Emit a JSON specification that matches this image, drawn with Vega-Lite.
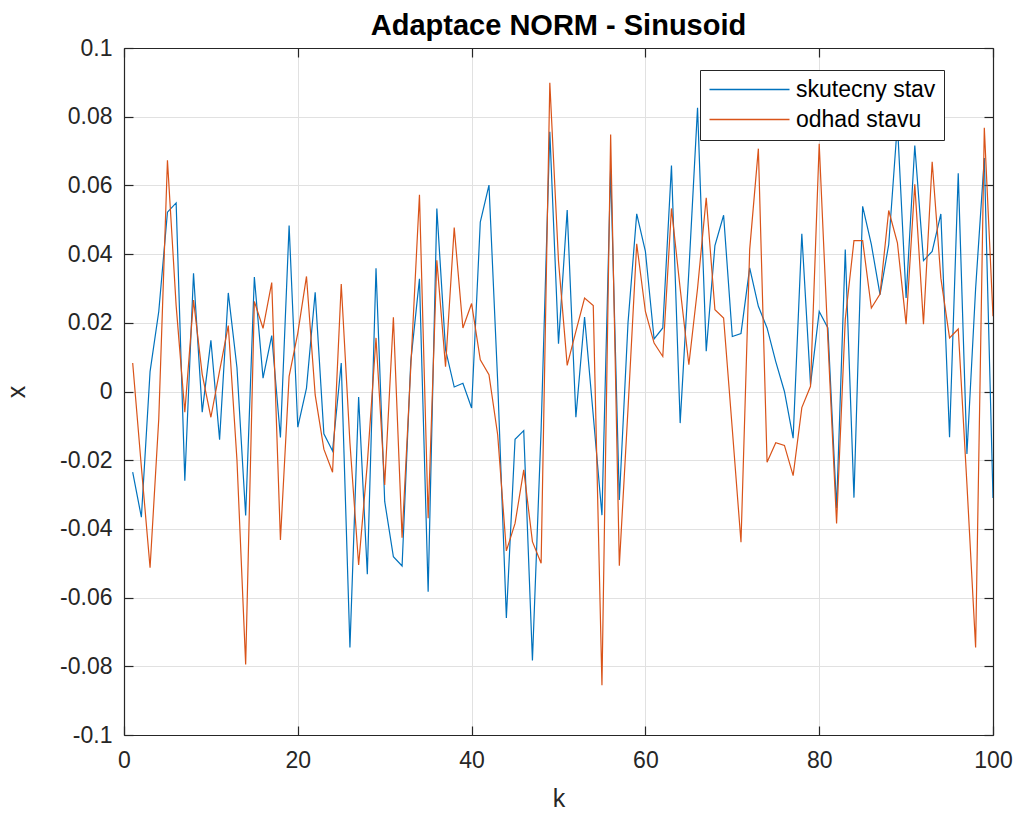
{
  "$schema": "https://vega.github.io/schema/vega-lite/v6.json",
  "width": 869,
  "height": 687,
  "autosize": {"type": "none"},
  "padding": {"left": 124, "top": 48, "right": 23, "bottom": 78},
  "background": "white",
  "title": {
    "text": "Adaptace NORM - Sinusoid",
    "font": "Liberation Sans",
    "fontSize": 29,
    "fontWeight": "bold",
    "color": "#000000",
    "anchor": "middle",
    "offset": -4
  },
  "config": {
    "view": {"stroke": null},
    "axis": {
      "labelFont": "Liberation Sans",
      "titleFont": "Liberation Sans",
      "labelColor": "#262626",
      "titleColor": "#262626",
      "labelFontSize": 23,
      "titleFontSize": 25,
      "titleFontWeight": "normal",
      "domainColor": "#262626",
      "tickColor": "#262626",
      "domainWidth": 1.2,
      "tickWidth": 1.2,
      "gridColor": "#e1e1e1",
      "gridWidth": 1
    }
  },
  "data": {
    "values": [
      {"k":1,"skutecny stav":-0.0235,"odhad stavu":0.0083},
      {"k":2,"skutecny stav":-0.0366,"odhad stavu":-0.022},
      {"k":3,"skutecny stav":0.0058,"odhad stavu":-0.0513},
      {"k":4,"skutecny stav":0.0233,"odhad stavu":-0.008},
      {"k":5,"skutecny stav":0.0522,"odhad stavu":0.0673},
      {"k":6,"skutecny stav":0.0549,"odhad stavu":0.025},
      {"k":7,"skutecny stav":-0.026,"odhad stavu":-0.006},
      {"k":8,"skutecny stav":0.0344,"odhad stavu":0.0266},
      {"k":9,"skutecny stav":-0.006,"odhad stavu":0.005},
      {"k":10,"skutecny stav":0.0149,"odhad stavu":-0.0075},
      {"k":11,"skutecny stav":-0.014,"odhad stavu":0.006},
      {"k":12,"skutecny stav":0.0287,"odhad stavu":0.0192},
      {"k":13,"skutecny stav":0.0069,"odhad stavu":-0.02},
      {"k":14,"skutecny stav":-0.0361,"odhad stavu":-0.0795},
      {"k":15,"skutecny stav":0.0333,"odhad stavu":0.0262},
      {"k":16,"skutecny stav":0.0039,"odhad stavu":0.0184},
      {"k":17,"skutecny stav":0.0163,"odhad stavu":0.0317},
      {"k":18,"skutecny stav":-0.0134,"odhad stavu":-0.0432},
      {"k":19,"skutecny stav":0.0483,"odhad stavu":0.0044},
      {"k":20,"skutecny stav":-0.0104,"odhad stavu":0.017},
      {"k":21,"skutecny stav":0.001,"odhad stavu":0.0335},
      {"k":22,"skutecny stav":0.0289,"odhad stavu":-0.001},
      {"k":23,"skutecny stav":-0.0123,"odhad stavu":-0.0168},
      {"k":24,"skutecny stav":-0.0173,"odhad stavu":-0.0235},
      {"k":25,"skutecny stav":0.0083,"odhad stavu":0.0313},
      {"k":26,"skutecny stav":-0.0745,"odhad stavu":-0.015},
      {"k":27,"skutecny stav":-0.0016,"odhad stavu":-0.0505},
      {"k":28,"skutecny stav":-0.0532,"odhad stavu":-0.021},
      {"k":29,"skutecny stav":0.0359,"odhad stavu":0.0156},
      {"k":30,"skutecny stav":-0.032,"odhad stavu":-0.0272},
      {"k":31,"skutecny stav":-0.0481,"odhad stavu":0.0216},
      {"k":32,"skutecny stav":-0.0508,"odhad stavu":-0.0426},
      {"k":33,"skutecny stav":0.0087,"odhad stavu":0.007},
      {"k":34,"skutecny stav":0.0328,"odhad stavu":0.0573},
      {"k":35,"skutecny stav":-0.0583,"odhad stavu":-0.0369},
      {"k":36,"skutecny stav":0.0533,"odhad stavu":0.0382},
      {"k":37,"skutecny stav":0.0122,"odhad stavu":0.0072},
      {"k":38,"skutecny stav":0.0013,"odhad stavu":0.0477},
      {"k":39,"skutecny stav":0.0024,"odhad stavu":0.0185},
      {"k":40,"skutecny stav":-0.0048,"odhad stavu":0.0256},
      {"k":41,"skutecny stav":0.0493,"odhad stavu":0.0092},
      {"k":42,"skutecny stav":0.0601,"odhad stavu":0.0049},
      {"k":43,"skutecny stav":0.003,"odhad stavu":-0.0126},
      {"k":44,"skutecny stav":-0.0659,"odhad stavu":-0.0464},
      {"k":45,"skutecny stav":-0.0139,"odhad stavu":-0.0384},
      {"k":46,"skutecny stav":-0.0114,"odhad stavu":-0.0228},
      {"k":47,"skutecny stav":-0.0783,"odhad stavu":-0.0437},
      {"k":48,"skutecny stav":-0.011,"odhad stavu":-0.05},
      {"k":49,"skutecny stav":0.0756,"odhad stavu":0.0899},
      {"k":50,"skutecny stav":0.0139,"odhad stavu":0.038},
      {"k":51,"skutecny stav":0.0528,"odhad stavu":0.0076},
      {"k":52,"skutecny stav":-0.0075,"odhad stavu":0.0175},
      {"k":53,"skutecny stav":0.0217,"odhad stavu":0.0272},
      {"k":54,"skutecny stav":-0.007,"odhad stavu":0.025},
      {"k":55,"skutecny stav":-0.036,"odhad stavu":-0.0855},
      {"k":56,"skutecny stav":0.065,"odhad stavu":0.0748},
      {"k":57,"skutecny stav":-0.0316,"odhad stavu":-0.0507},
      {"k":58,"skutecny stav":0.02,"odhad stavu":-0.005},
      {"k":59,"skutecny stav":0.0517,"odhad stavu":0.043},
      {"k":60,"skutecny stav":0.0408,"odhad stavu":0.0233},
      {"k":61,"skutecny stav":0.0153,"odhad stavu":0.0141},
      {"k":62,"skutecny stav":0.0185,"odhad stavu":0.0102},
      {"k":63,"skutecny stav":0.0658,"odhad stavu":0.0533},
      {"k":64,"skutecny stav":-0.0092,"odhad stavu":0.03},
      {"k":65,"skutecny stav":0.035,"odhad stavu":0.0078},
      {"k":66,"skutecny stav":0.0826,"odhad stavu":0.03},
      {"k":67,"skutecny stav":0.0117,"odhad stavu":0.0564},
      {"k":68,"skutecny stav":0.0425,"odhad stavu":0.0238},
      {"k":69,"skutecny stav":0.0513,"odhad stavu":0.0214},
      {"k":70,"skutecny stav":0.016,"odhad stavu":-0.011},
      {"k":71,"skutecny stav":0.0169,"odhad stavu":-0.0439},
      {"k":72,"skutecny stav":0.036,"odhad stavu":0.0413},
      {"k":73,"skutecny stav":0.0248,"odhad stavu":0.0707},
      {"k":74,"skutecny stav":0.0185,"odhad stavu":-0.0206},
      {"k":75,"skutecny stav":0.0087,"odhad stavu":-0.0149},
      {"k":76,"skutecny stav":0.0,"odhad stavu":-0.0157},
      {"k":77,"skutecny stav":-0.0136,"odhad stavu":-0.0245},
      {"k":78,"skutecny stav":0.0459,"odhad stavu":-0.0047},
      {"k":79,"skutecny stav":0.002,"odhad stavu":0.0015},
      {"k":80,"skutecny stav":0.0233,"odhad stavu":0.0721},
      {"k":81,"skutecny stav":0.0185,"odhad stavu":0.015},
      {"k":82,"skutecny stav":-0.034,"odhad stavu":-0.0384},
      {"k":83,"skutecny stav":0.0413,"odhad stavu":0.021},
      {"k":84,"skutecny stav":-0.0309,"odhad stavu":0.0439},
      {"k":85,"skutecny stav":0.0539,"odhad stavu":0.0439},
      {"k":86,"skutecny stav":0.0428,"odhad stavu":0.0243},
      {"k":87,"skutecny stav":0.0282,"odhad stavu":0.0284},
      {"k":88,"skutecny stav":0.0428,"odhad stavu":0.0527},
      {"k":89,"skutecny stav":0.078,"odhad stavu":0.0433},
      {"k":90,"skutecny stav":0.0272,"odhad stavu":0.0196},
      {"k":91,"skutecny stav":0.0716,"odhad stavu":0.0603},
      {"k":92,"skutecny stav":0.0381,"odhad stavu":0.0196},
      {"k":93,"skutecny stav":0.0408,"odhad stavu":0.0669},
      {"k":94,"skutecny stav":0.0517,"odhad stavu":0.033},
      {"k":95,"skutecny stav":-0.0133,"odhad stavu":0.0156},
      {"k":96,"skutecny stav":0.0635,"odhad stavu":0.0182},
      {"k":97,"skutecny stav":-0.0182,"odhad stavu":-0.027},
      {"k":98,"skutecny stav":0.03,"odhad stavu":-0.0745},
      {"k":99,"skutecny stav":0.068,"odhad stavu":0.0768},
      {"k":100,"skutecny stav":-0.031,"odhad stavu":0.0219}
    ]
  },
  "transform": [
    {"fold": ["skutecny stav", "odhad stavu"], "as": ["serie", "x"]}
  ],
  "layer": [
    {
      "mark": {"type": "line", "strokeWidth": 1.2, "clip": true},
      "encoding": {
        "x": {
          "field": "k", "type": "quantitative",
          "scale": {"domain": [0, 100], "nice": false, "zero": false},
          "axis": {
            "orient": "bottom", "title": "k", "values": [0, 20, 40, 60, 80, 100],
            "tickSize": -9, "labelPadding": 23, "titlePadding": 14,
            "grid": true, "labelFlush": false
          }
        },
        "y": {
          "field": "x", "type": "quantitative",
          "scale": {"domain": [-0.1, 0.1], "nice": false, "zero": false},
          "axis": {
            "orient": "left", "title": "x",
            "values": [-0.1, -0.08, -0.06, -0.04, -0.02, 0, 0.02, 0.04, 0.06, 0.08, 0.1],
            "labelExpr": "replace(format(datum.value, '~g'), '\u2212', '-')",
            "tickSize": -9, "labelPadding": 21, "titlePadding": 30,
            "grid": true, "labelFlush": false
          }
        },
        "color": {
          "field": "serie", "type": "nominal",
          "scale": {"domain": ["skutecny stav", "odhad stavu"], "range": ["#0072BD", "#D95319"]},
          "legend": {
            "title": null,
            "orient": "none",
            "legendX": 576,
            "legendY": 22,
            "direction": "vertical",
            "fillColor": "white",
            "strokeColor": "#262626",
            "padding": 8,
            "symbolType": "M-4,0L4,0",
            "symbolSize": 400,
            "symbolStrokeWidth": 1.3,
            "symbolOffset": 30,
            "labelFont": "Liberation Sans",
            "labelFontSize": 23,
            "labelColor": "#000000",
            "labelOffset": 35,
            "rowPadding": 6
          }
        }
      }
    },
    {
      "mark": {"type": "line", "opacity": 0},
      "encoding": {
        "x": {
          "field": "k", "type": "quantitative",
          "axis": {
            "orient": "top", "title": null, "labels": false, "grid": false,
            "values": [0, 20, 40, 60, 80, 100], "tickSize": -9
          }
        },
        "y": {
          "field": "x", "type": "quantitative",
          "axis": {
            "orient": "right", "title": null, "labels": false, "grid": false,
            "values": [-0.1, -0.08, -0.06, -0.04, -0.02, 0, 0.02, 0.04, 0.06, 0.08, 0.1],
            "tickSize": -9
          }
        },
        "detail": {"field": "serie", "type": "nominal"}
      }
    }
  ],
  "resolve": {"axis": {"x": "independent", "y": "independent"}}
}
